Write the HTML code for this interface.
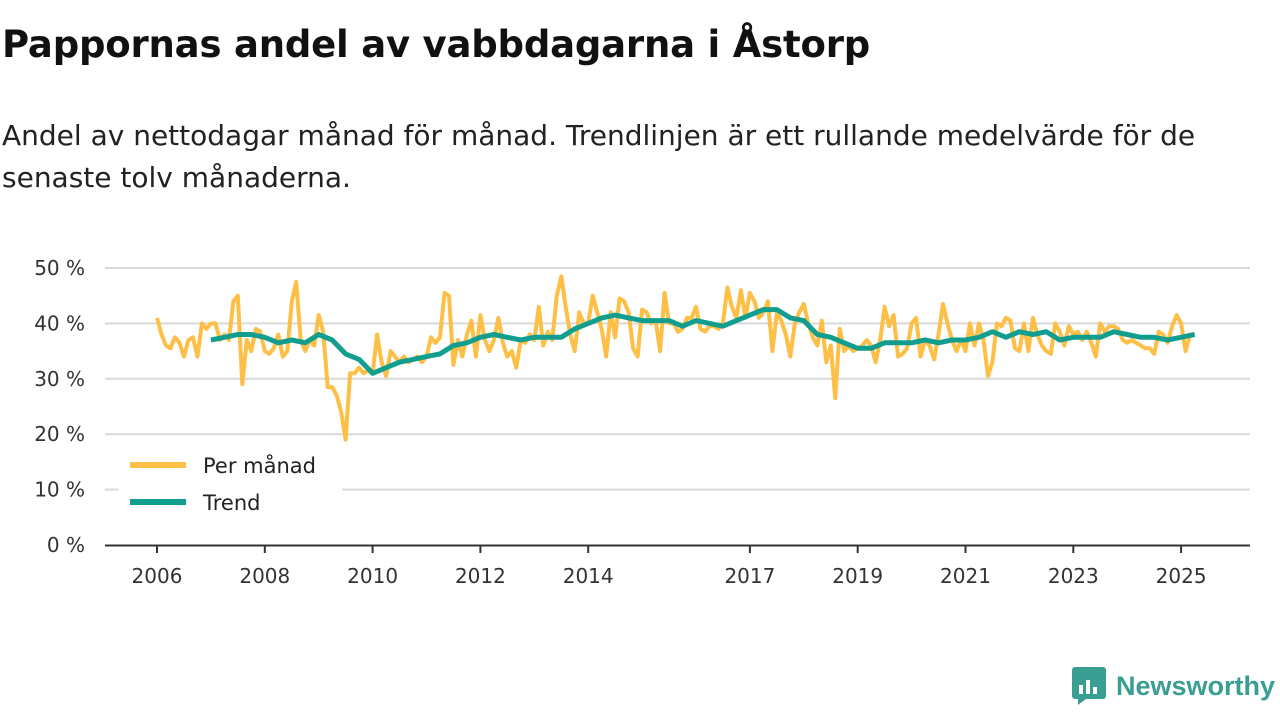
<!DOCTYPE html>
<html><head><meta charset="utf-8"><style>
body{margin:0;width:1280px;height:720px;background:#fff;font-family:"DejaVu Sans","Liberation Sans",sans-serif;color:#111;position:relative;overflow:hidden}
h1{position:absolute;left:2px;top:23px;margin:0;font-size:37px;font-weight:bold;letter-spacing:-0.2px}
p.sub{position:absolute;left:2px;top:115px;margin:0;font-size:28px;line-height:42px;color:#222;letter-spacing:0px}
svg{position:absolute;left:0;top:0}
.logo{position:absolute;left:1072px;top:667px;display:flex;align-items:center;font-size:27px;font-weight:bold;color:#3a9e92;font-family:"Liberation Sans",sans-serif}
</style></head><body>
<h1>Pappornas andel av vabbdagarna i Åstorp</h1>
<p class="sub">Andel av nettodagar månad för månad. Trendlinjen är ett rullande medelvärde för de<br>senaste tolv månaderna.</p>
<svg id="chart" width="1280" height="720"></svg>
<div class="logo"><svg width="34" height="38" style="position:static;margin-right:10px"><rect x="0" y="0" width="34" height="32" rx="3" fill="#3a9e92"/><polygon points="6,32 14,32 6,38" fill="#3a9e92"/><rect x="7" y="18" width="4" height="9" fill="#fff"/><rect x="14" y="13" width="4" height="14" fill="#fff"/><rect x="21" y="20" width="4" height="7" fill="#fff"/></svg>Newsworthy</div>
<script>
const monthly=[41,38,36,35.5,37.5,36.5,34,37,37.5,34,40,39,
40,40,37,38,37,44,45,29,37,35,39,38.5,
35,34.5,35.5,38,34,35,44,47.5,37,35,37,36,
41.5,38.5,28.5,28.5,27,24,19,31,31,32,31,31.5,
31,38,33,30.5,35,34,33,34,33,33.5,34,33,
34,37.5,36.5,37.5,45.5,45,32.5,37,34,38,40.5,34,
41.5,37,35,37,41,36.5,34,35,32,37,36.5,38,
37,43,36,38.5,37,45,48.5,43,38,35,42,40,
40,45,42,39,34,42,37.5,44.5,44,42,35.5,34,
42.5,42,40,40.5,35,45.5,40,40,38.5,39,41,41,
43,39,38.5,39.5,39.5,39,40,46.5,43,41,46,41,
45.5,44,41,42,44,35,42,40.5,38,34,40,42,
43.5,40,37.5,36,40.5,33,36,26.5,39,35,36,35,
35.5,36,37,36,33,37,43,39.5,41.5,34,34.5,35.5,
40,41,34,37,36,33.5,38,43.5,40,37,35,37,
35,40,36,40,37,30.5,33,40,39.5,41,40.5,35.5,
35,40,35,41,38,36,35,34.5,40,38.5,36,39.5,
38,38.5,37,38.5,36.5,34,40,38.5,39.5,39.5,39,37,
36.5,37,36.5,36,35.5,35.5,34.5,38.5,38,36.5,39.5,41.5,
40,35,38,38];
const monthlyStart=2006;
const trend=[37,37.5,38,38,37.5,36.5,37,36.5,38,37,34.5,33.5,31,32,33,33.5,34,34.5,36,36.5,37.5,38,37.5,37,37.5,37.5,37.5,39,40,41,41.5,41,40.5,40.5,40.5,39.5,40.5,40,39.5,40.5,41.5,42.5,42.5,41,40.5,38,37.5,36.5,35.5,35.5,36.5,36.5,36.5,37,36.5,37,37,37.5,38.5,37.5,38.5,38,38.5,37,37.5,37.5,37.5,38.5,38,37.5,37.5,37,37.5,38];
const trendStart=2007;
const yTicks=[0,10,20,30,40,50];
const xTicks=[2006,2008,2010,2012,2014,2017,2019,2021,2023,2025];
const NS="http://www.w3.org/2000/svg";
const svg=document.getElementById('chart');
const X=t=>157+(t-2006)*53.9;
const Y=v=>545-v*5.54;
function mk(tag,attrs){const e=document.createElementNS(NS,tag);for(const k in attrs)e.setAttribute(k,attrs[k]);svg.appendChild(e);return e;}
yTicks.forEach(v=>{
 if(v>0){const g=mk('line',{x1:105,x2:1250,y1:Y(v),y2:Y(v),stroke:'#d9d9d9','stroke-width':2});
 
 }
 const t=mk('text',{x:85,y:Y(v)+7,'text-anchor':'end','font-size':20,fill:'#333','font-family':'DejaVu Sans, sans-serif'});
 t.textContent=v+' %';
 
 
});
const ax=mk('line',{x1:105,x2:1250,y1:545.5,y2:545.5,stroke:'#333','stroke-width':2});


xTicks.forEach(yr=>{
 const tk=mk('line',{x1:X(yr),x2:X(yr),y1:546,y2:553,stroke:'#333','stroke-width':2});
 
 
 const t=mk('text',{x:X(yr),y:583,'text-anchor':'middle','font-size':20,fill:'#333','font-family':'DejaVu Sans, sans-serif'});
 t.textContent=yr;
 
 
});
const mp=monthly.map((v,i)=>X(monthlyStart+i/12).toFixed(1)+','+Y(v).toFixed(1)).join(' ');
const l1=mk('polyline',{points:mp,fill:'none',stroke:'#fdbf45','stroke-width':4,'stroke-linejoin':'round'});


const tp=trend.map((v,i)=>X(trendStart+i/4).toFixed(1)+','+Y(v).toFixed(1)).join(' ');
const l2=mk('polyline',{points:tp,fill:'none',stroke:'#119e8f','stroke-width':5,'stroke-linejoin':'round'});


const lb=mk('rect',{x:118,y:448,width:224,height:72,fill:'#fff'});


[['Per månad','#fdbf45',465],['Trend','#119e8f',502]].forEach(([n,c,y])=>{
 const s=mk('line',{x1:130,x2:186,y1:y,y2:y,stroke:c,'stroke-width':6});
 
 
 const t=mk('text',{x:203,y:y+8,'font-size':21,fill:'#222','font-family':'DejaVu Sans, sans-serif'});
 t.textContent=n;
 
 
});
</script>
</body></html>
